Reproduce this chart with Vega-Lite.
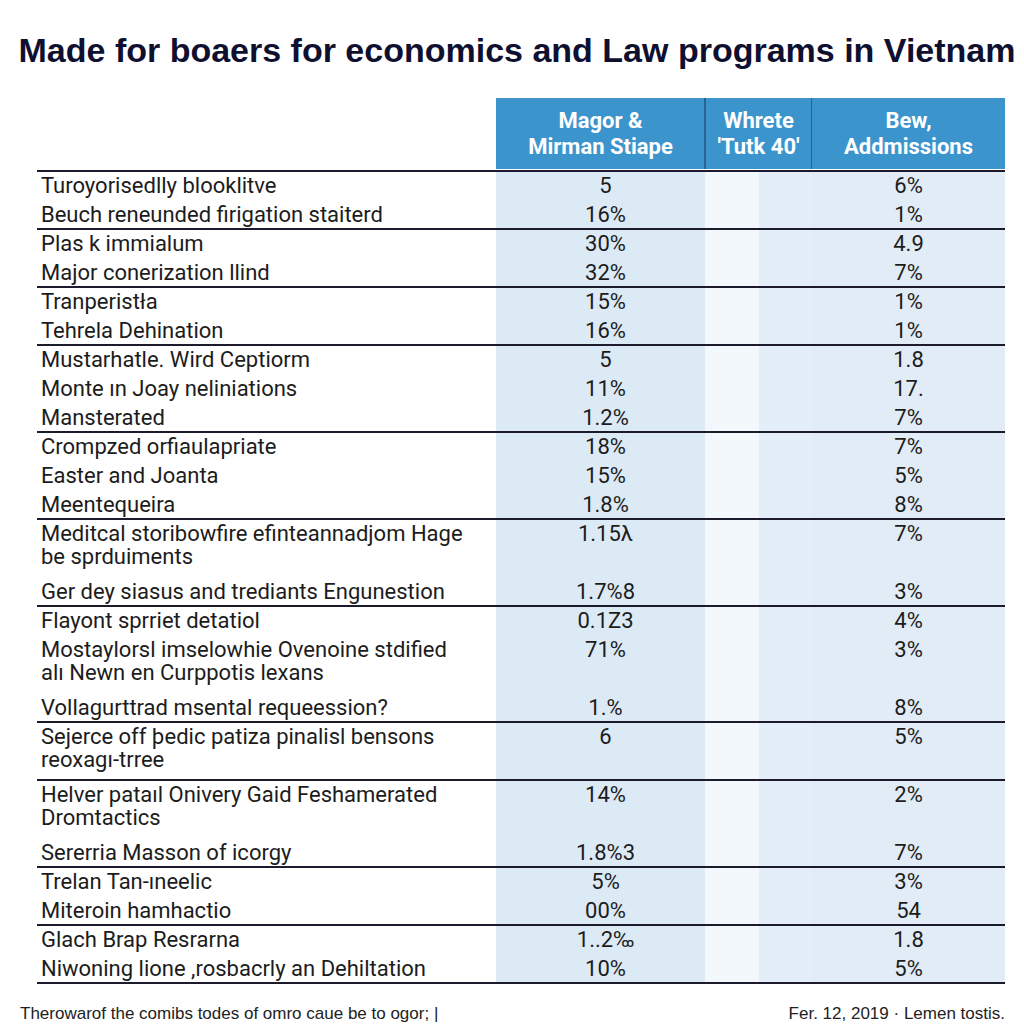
{
  "$schema": "https://vega.github.io/schema/vega-lite/v6.json",
  "padding": {"left": 18, "right": 21, "top": 35, "bottom": 0},
  "background": "white",
  "title": {"text": "Made for boaers for economics and Law programs in Vietnam", "fontSize": 34, "font": "Liberation Sans", "fontWeight": "bold", "color": "#0f1030", "anchor": "middle", "offset": 28, "dx": 4},
  "datasets": {
    "rows": [
      {"row": 1, "group": 1, "label": "Turoyorisedlly blooklitve", "major": "5", "admissions": "6%"},
      {"row": 2, "group": 1, "label": "Beuch reneunded firigation staiterd", "major": "16%", "admissions": "1%"},
      {"row": 3, "group": 2, "label": "Plas k immialum", "major": "30%", "admissions": "4.9"},
      {"row": 4, "group": 2, "label": "Major conerization llind", "major": "32%", "admissions": "7%"},
      {"row": 5, "group": 3, "label": "Tranperistła", "major": "15%", "admissions": "1%"},
      {"row": 6, "group": 3, "label": "Tehrela Dehination", "major": "16%", "admissions": "1%"},
      {"row": 7, "group": 4, "label": "Mustarhatle. Wird Ceptiorm", "major": "5", "admissions": "1.8"},
      {"row": 8, "group": 4, "label": "Monte ın Joay neliniations", "major": "11%", "admissions": "17."},
      {"row": 9, "group": 4, "label": "Mansterated", "major": "1.2%", "admissions": "7%"},
      {"row": 10, "group": 5, "label": "Crompzed orfiaulapriate", "major": "18%", "admissions": "7%"},
      {"row": 11, "group": 5, "label": "Easter and Joanta", "major": "15%", "admissions": "5%"},
      {"row": 12, "group": 5, "label": "Meentequeira", "major": "1.8%", "admissions": "8%"},
      {"row": 13, "group": 6, "label": "Meditcal storibowfire efinteannadjom Hage\nbe sprduiments", "major": "1.15λ", "admissions": "7%"},
      {"row": 15, "group": 6, "label": "Ger dey siasus and trediants Engunestion", "major": "1.7%8", "admissions": "3%"},
      {"row": 16, "group": 7, "label": "Flayont sprriet detatiol", "major": "0.1Z3", "admissions": "4%"},
      {"row": 17, "group": 7, "label": "Mostaylorsl imselowhie Ovenoine stdified\nalı Newn en Curppotis lexans", "major": "71%", "admissions": "3%"},
      {"row": 19, "group": 7, "label": "Vollagurttrad msental requeession?", "major": "1.%", "admissions": "8%"},
      {"row": 20, "group": 8, "label": "Sejerce off þedic patiza pinalisl bensons\nreoxagı-trree", "major": "6", "admissions": "5%"},
      {"row": 22, "group": 9, "label": "Helver pataıl Onivery Gaid Feshamerated\nDromtactics", "major": "14%", "admissions": "2%"},
      {"row": 24, "group": 9, "label": "Sererria Masson of icorgy", "major": "1.8%3", "admissions": "7%"},
      {"row": 25, "group": 10, "label": "Trelan Tan-ıneelic", "major": "5%", "admissions": "3%"},
      {"row": 26, "group": 10, "label": "Miteroin hamhactio", "major": "00%", "admissions": "54"},
      {"row": 27, "group": 11, "label": "Glach Brap Resrarna", "major": "1..2‰", "admissions": "1.8"},
      {"row": 28, "group": 11, "label": "Niwoning lione ,rosbacrly an Dehiltation", "major": "10%", "admissions": "5%"}
    ]
  },
  "spacing": 0,
  "vconcat": [
    {
      "spacing": 0,
      "bounds": "flush",
      "hconcat": [
        {
          "width": 476, "height": 71,
          "data": {"values": [{"h": ""}]},
          "mark": {"type": "text"},
          "encoding": {"text": {"field": "h"}}
        },
        {
          "width": 209, "height": 71,
          "view": {"fill": "#3c94cd"},
          "data": {"values": [{"h": "Magor &\nMirman Stiape"}]},
          "mark": {"type": "text", "color": "white", "fontWeight": "bold", "fontSize": 22, "lineBreak": "\n", "lineHeight": 26, "baseline": "middle", "align": "center", "dy": -13},
          "encoding": {"text": {"field": "h"}}
        },
        {
          "width": 107, "height": 71,
          "view": {"fill": "#3c94cd"},
          "data": {"values": [{"h": "Whrete\n'Tutk 40'"}]},
          "layer": [
            {
              "mark": {"type": "text", "color": "white", "fontWeight": "bold", "fontSize": 22, "lineBreak": "\n", "lineHeight": 26, "baseline": "middle", "align": "center", "dy": -13},
              "encoding": {"text": {"field": "h"}}
            },
            {
              "mark": {"type": "rule", "color": "#22557f", "strokeWidth": 1.5},
              "encoding": {"x": {"value": 0}}
            },
            {
              "mark": {"type": "rule", "color": "#22557f", "strokeWidth": 1.5},
              "encoding": {"x": {"value": "width"}}
            }
          ]
        },
        {
          "width": 193, "height": 71,
          "view": {"fill": "#3c94cd"},
          "data": {"values": [{"h": "Bew,\nAddmissions"}]},
          "mark": {"type": "text", "color": "white", "fontWeight": "bold", "fontSize": 22, "lineBreak": "\n", "lineHeight": 26, "baseline": "middle", "align": "center", "dy": -13},
          "encoding": {"text": {"field": "h"}}
        }
      ]
    },
    {
      "spacing": 0,
      "bounds": "flush",
      "hconcat": [
        {
          "width": 476, "height": 812,
          "data": {"name": "rows"},
          "layer": [
            {
              "mark": {"type": "text", "align": "left", "baseline": "alphabetic", "dx": 21, "dy": 7, "fontSize": 22, "color": "#1c1c1c", "lineBreak": "\n", "lineHeight": 23},
              "encoding": {
                "x": {"value": 0},
                "y": {"field": "row", "type": "quantitative", "scale": {"domain": [0.5, 28.5], "reverse": true, "nice": false, "zero": false}, "axis": null},
                "text": {"field": "label"}
              }
            },
            {
              "transform": [{"joinaggregate": [{"op": "min", "field": "row", "as": "first"}], "groupby": ["group"]}, {"filter": "datum.row === datum.first"}],
              "mark": {"type": "rule", "yOffset": -14.5, "x": 17, "x2": "width", "color": "#1b1b2b", "strokeWidth": 2},
              "encoding": {"y": {"field": "row", "type": "quantitative", "scale": {"domain": [0.5, 28.5], "reverse": true, "nice": false, "zero": false}, "axis": null}}
            },
            {
              "transform": [{"joinaggregate": [{"op": "max", "field": "row", "as": "last"}]}, {"filter": "datum.row === datum.last"}],
              "mark": {"type": "rule", "yOffset": 14.5, "x": 17, "x2": "width", "color": "#1b1b2b", "strokeWidth": 2},
              "encoding": {"y": {"field": "row", "type": "quantitative", "scale": {"domain": [0.5, 28.5], "reverse": true, "nice": false, "zero": false}, "axis": null}}
            }
          ]
        },
        {
          "width": 209, "height": 812,
          "view": {"fill": "#dceaf6"},
          "data": {"name": "rows"},
          "layer": [
            {
              "mark": {"type": "text", "align": "center", "baseline": "alphabetic", "dx": 5, "dy": 7, "fontSize": 22, "color": "#1c1c1c"},
              "encoding": {
                "y": {"field": "row", "type": "quantitative", "scale": {"domain": [0.5, 28.5], "reverse": true, "nice": false, "zero": false}, "axis": null},
                "text": {"field": "major"}
              }
            },
            {
              "transform": [{"joinaggregate": [{"op": "min", "field": "row", "as": "first"}], "groupby": ["group"]}, {"filter": "datum.row === datum.first"}],
              "mark": {"type": "rule", "yOffset": -14.5, "color": "#1b1b2b", "strokeWidth": 2},
              "encoding": {"y": {"field": "row", "type": "quantitative", "scale": {"domain": [0.5, 28.5], "reverse": true, "nice": false, "zero": false}, "axis": null}}
            },
            {
              "transform": [{"joinaggregate": [{"op": "max", "field": "row", "as": "last"}]}, {"filter": "datum.row === datum.last"}],
              "mark": {"type": "rule", "yOffset": 14.5, "color": "#1b1b2b", "strokeWidth": 2},
              "encoding": {"y": {"field": "row", "type": "quantitative", "scale": {"domain": [0.5, 28.5], "reverse": true, "nice": false, "zero": false}, "axis": null}}
            }
          ]
        },
        {
          "width": 54, "height": 812,
          "view": {"fill": "#f3f8fd"},
          "data": {"name": "rows"},
          "layer": [
            {
              "transform": [{"joinaggregate": [{"op": "min", "field": "row", "as": "first"}], "groupby": ["group"]}, {"filter": "datum.row === datum.first"}],
              "mark": {"type": "rule", "yOffset": -14.5, "color": "#1b1b2b", "strokeWidth": 2},
              "encoding": {"y": {"field": "row", "type": "quantitative", "scale": {"domain": [0.5, 28.5], "reverse": true, "nice": false, "zero": false}, "axis": null}}
            },
            {
              "transform": [{"joinaggregate": [{"op": "max", "field": "row", "as": "last"}]}, {"filter": "datum.row === datum.last"}],
              "mark": {"type": "rule", "yOffset": 14.5, "color": "#1b1b2b", "strokeWidth": 2},
              "encoding": {"y": {"field": "row", "type": "quantitative", "scale": {"domain": [0.5, 28.5], "reverse": true, "nice": false, "zero": false}, "axis": null}}
            }
          ]
        },
        {
          "width": 53, "height": 812,
          "view": {"fill": "#e3eef8"},
          "data": {"name": "rows"},
          "layer": [
            {
              "transform": [{"joinaggregate": [{"op": "min", "field": "row", "as": "first"}], "groupby": ["group"]}, {"filter": "datum.row === datum.first"}],
              "mark": {"type": "rule", "yOffset": -14.5, "color": "#1b1b2b", "strokeWidth": 2},
              "encoding": {"y": {"field": "row", "type": "quantitative", "scale": {"domain": [0.5, 28.5], "reverse": true, "nice": false, "zero": false}, "axis": null}}
            },
            {
              "transform": [{"joinaggregate": [{"op": "max", "field": "row", "as": "last"}]}, {"filter": "datum.row === datum.last"}],
              "mark": {"type": "rule", "yOffset": 14.5, "color": "#1b1b2b", "strokeWidth": 2},
              "encoding": {"y": {"field": "row", "type": "quantitative", "scale": {"domain": [0.5, 28.5], "reverse": true, "nice": false, "zero": false}, "axis": null}}
            }
          ]
        },
        {
          "width": 193, "height": 812,
          "view": {"fill": "#e1ecf7"},
          "data": {"name": "rows"},
          "layer": [
            {
              "mark": {"type": "text", "align": "center", "baseline": "alphabetic", "dy": 7, "fontSize": 22, "color": "#1c1c1c"},
              "encoding": {
                "y": {"field": "row", "type": "quantitative", "scale": {"domain": [0.5, 28.5], "reverse": true, "nice": false, "zero": false}, "axis": null},
                "text": {"field": "admissions"}
              }
            },
            {
              "transform": [{"joinaggregate": [{"op": "min", "field": "row", "as": "first"}], "groupby": ["group"]}, {"filter": "datum.row === datum.first"}],
              "mark": {"type": "rule", "yOffset": -14.5, "color": "#1b1b2b", "strokeWidth": 2},
              "encoding": {"y": {"field": "row", "type": "quantitative", "scale": {"domain": [0.5, 28.5], "reverse": true, "nice": false, "zero": false}, "axis": null}}
            },
            {
              "transform": [{"joinaggregate": [{"op": "max", "field": "row", "as": "last"}]}, {"filter": "datum.row === datum.last"}],
              "mark": {"type": "rule", "yOffset": 14.5, "color": "#1b1b2b", "strokeWidth": 2},
              "encoding": {"y": {"field": "row", "type": "quantitative", "scale": {"domain": [0.5, 28.5], "reverse": true, "nice": false, "zero": false}, "axis": null}}
            }
          ]
        }
      ]
    },
    {
      "width": 985, "height": 40,
      "layer": [
        {
          "data": {"values": [{"t": "Therowarof the comibs todes of omro caue be to ogor; |"}]},
          "mark": {"type": "text", "align": "left", "baseline": "middle", "dy": 10, "fontSize": 17, "font": "Liberation Sans", "color": "#222222"},
          "encoding": {"x": {"value": 0}, "text": {"field": "t"}}
        },
        {
          "data": {"values": [{"t": "Fer. 12, 2019 · Lemen tostis."}]},
          "mark": {"type": "text", "align": "right", "baseline": "middle", "x": "width", "dy": 10, "fontSize": 17, "font": "Liberation Sans", "color": "#222222"},
          "encoding": {"text": {"field": "t"}}
        }
      ]
    }
  ],
  "config": {"view": {"stroke": null}, "concat": {"spacing": 0}, "text": {"font": "Roboto"}}
}
